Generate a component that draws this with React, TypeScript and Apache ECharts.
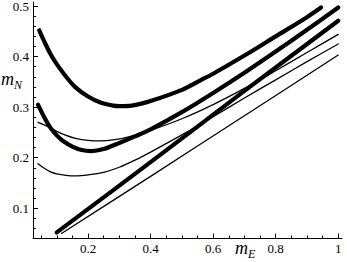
import React, { useEffect, useRef } from "react";
import * as echarts from "echarts";

// tick values
const xMajorTicks = [0.2, 0.4, 0.6, 0.8, 1];
const xMinorTicks = [0.05, 0.1, 0.15, 0.25, 0.3, 0.35, 0.45, 0.5, 0.55, 0.65, 0.7, 0.75, 0.85, 0.9, 0.95];
const yMajorTicks = [0.1, 0.2, 0.3, 0.4, 0.5];
const yMinorTicks = [0.06, 0.08, 0.12, 0.14, 0.16, 0.18, 0.22, 0.24, 0.26, 0.28, 0.32, 0.34, 0.36, 0.38, 0.42, 0.44, 0.46, 0.48];

// thick curves
const thickUpper: number[][] = [
  [0.044, 0.452], [0.06, 0.43], [0.08, 0.405], [0.1, 0.385], [0.13, 0.36], [0.16, 0.339],
  [0.2, 0.321], [0.24, 0.309], [0.28, 0.303], [0.3, 0.302], [0.34, 0.303], [0.4, 0.312],
  [0.5, 0.334], [0.556, 0.352], [0.6, 0.366], [0.7, 0.402], [0.8, 0.44], [0.9, 0.478], [0.945, 0.497],
];
const thickMiddle: number[][] = [
  [0.04, 0.305], [0.06, 0.28], [0.08, 0.259], [0.1, 0.244], [0.12, 0.233], [0.15, 0.222],
  [0.18, 0.215], [0.21, 0.213], [0.25, 0.217], [0.3, 0.229], [0.35, 0.242], [0.4, 0.256],
  [0.5, 0.29], [0.6, 0.328], [0.7, 0.368], [0.8, 0.41], [0.9, 0.453], [1.0, 0.497],
];
const thickStraight: number[][] = [
  [0.1, 0.052], [0.4, 0.191], [0.7, 0.332], [1.0, 0.471],
];
// thin curves
const thinUpper: number[][] = [
  [0.04, 0.27], [0.06, 0.265], [0.08, 0.259], [0.1, 0.252], [0.13, 0.244], [0.16, 0.238],
  [0.2, 0.234], [0.24, 0.233], [0.28, 0.235], [0.33, 0.241], [0.4, 0.254], [0.5, 0.277],
  [0.6, 0.305], [0.7, 0.337], [0.8, 0.372], [0.9, 0.408], [1.0, 0.444],
];
const thinLower: number[][] = [
  [0.04, 0.188], [0.06, 0.179], [0.08, 0.172], [0.1, 0.168], [0.13, 0.165], [0.16, 0.164],
  [0.2, 0.166], [0.25, 0.171], [0.3, 0.181], [0.35, 0.195], [0.4, 0.211], [0.5, 0.245],
  [0.6, 0.281], [0.7, 0.318], [0.8, 0.354], [0.9, 0.39], [1.0, 0.425],
];
const thinStraight: number[][] = [
  [0.115, 0.05], [0.4, 0.163], [0.7, 0.283], [1.0, 0.403],
];

const FONT = "Liberation Serif";

function lineSeries(data: number[][], width: number) {
  return {
    type: "line",
    data,
    showSymbol: false,
    symbol: "none",
    smooth: 0.3,
    silent: true,
    lineStyle: { color: "#000", width, cap: "round", join: "round" },
  };
}

export default function App() {
  const ref = useRef<HTMLDivElement>(null);
  useEffect(() => {
    if (!ref.current) return;
    const chart = echarts.init(ref.current, undefined, { renderer: "svg" });
    const axisCommon = {
      type: "value",
      splitLine: { show: false },
    };
    chart.setOption({
      animation: false,
      backgroundColor: "#fff",
      textStyle: { fontFamily: FONT },
      grid: { left: 33, right: 5, top: 2, bottom: 23.5, containLabel: false, outerBoundsMode: "none" },
      xAxis: [
        {
          ...axisCommon,
          min: 0.024,
          max: 1.012,
          position: "bottom",
          axisLine: { show: true, lineStyle: { color: "#000", width: 1 } },
          axisTick: { show: true, inside: true, length: 5, customValues: xMajorTicks, lineStyle: { color: "#000" } },
          axisLabel: {
            show: true,
            margin: 3,
            customValues: xMajorTicks,
            fontFamily: FONT,
            fontSize: 13,
            color: "#000",
            formatter: (v: number) => (v === 1 ? "1" : v.toFixed(1)),
          },
        },
        {
          ...axisCommon,
          min: 0.024,
          max: 1.012,
          position: "bottom",
          axisLine: { show: false },
          axisTick: { show: true, inside: true, length: 3, customValues: xMinorTicks, lineStyle: { color: "#000" } },
          axisLabel: { show: false },
        },
      ],
      yAxis: [
        {
          ...axisCommon,
          min: 0.04,
          max: 0.508,
          position: "left",
          axisLine: { show: true, lineStyle: { color: "#000", width: 1 } },
          axisTick: { show: true, inside: true, length: 5, customValues: yMajorTicks, lineStyle: { color: "#000" } },
          axisLabel: {
            show: true,
            margin: 4,
            customValues: yMajorTicks,
            fontFamily: FONT,
            fontSize: 13,
            color: "#000",
            formatter: (v: number) => v.toFixed(1),
          },
        },
        {
          ...axisCommon,
          min: 0.04,
          max: 0.508,
          position: "left",
          axisLine: { show: false },
          axisTick: { show: true, inside: true, length: 3, customValues: yMinorTicks, lineStyle: { color: "#000" } },
          axisLabel: { show: false },
        },
      ],
      graphic: [
        { type: "text", x: 1, y: 79, style: { text: "m", fontFamily: FONT, fontSize: 18, fontStyle: "italic", fill: "#000", verticalAlign: "middle", align: "left" } },
        { type: "text", x: 14, y: 85, style: { text: "N", fontFamily: FONT, fontSize: 12, fontStyle: "italic", fill: "#000", verticalAlign: "middle", align: "left" } },
        { type: "text", x: 235, y: 247.5, style: { text: "m", fontFamily: FONT, fontSize: 18, fontStyle: "italic", fill: "#000", verticalAlign: "middle", align: "left" } },
        { type: "text", x: 248, y: 254, style: { text: "E", fontFamily: FONT, fontSize: 12, fontStyle: "italic", fill: "#000", verticalAlign: "middle", align: "left" } },
      ],
      series: [
        lineSeries(thickUpper, 4.2),
        lineSeries(thickMiddle, 4.2),
        lineSeries(thickStraight, 4.2),
        lineSeries(thinUpper, 1.3),
        lineSeries(thinLower, 1.3),
        lineSeries(thinStraight, 1.3),
      ],
    });
    return () => chart.dispose();
  }, []);
  return (
    <div
      ref={ref}
      style={{ position: "fixed", left: 0, top: 0, width: 347, height: 262, background: "#fff" }}
    />
  );
}
